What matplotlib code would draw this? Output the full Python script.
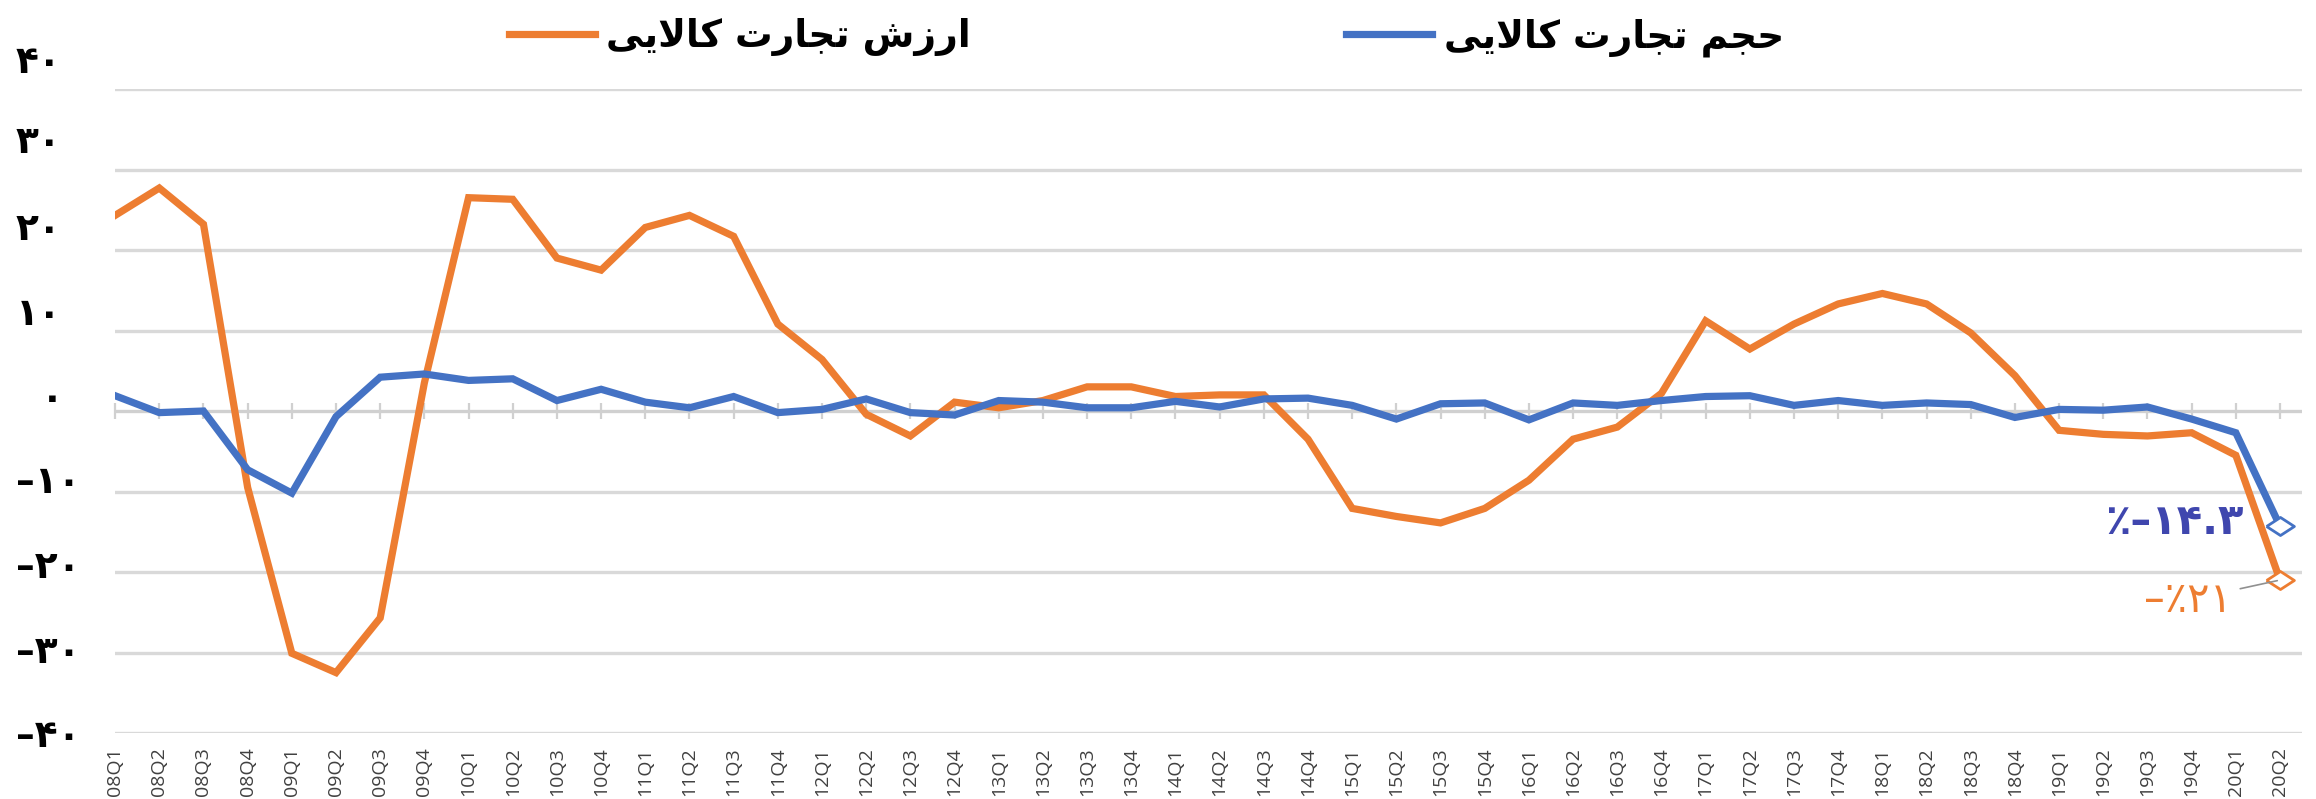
import numpy as np
import matplotlib
matplotlib.use("Agg")
import matplotlib.pyplot as plt
from matplotlib.lines import Line2D
from matplotlib.transforms import blended_transform_factory

plt.rcParams['font.family'] = ['DejaVu Sans']

# داده ها (درصد تغییر نسبت به سال قبل)
quarters = [f"{y:02d}Q{q}" for y in range(8, 21) for q in range(1, 5)][:50]

value_trade = [24.3, 27.7, 23.2, -9.5, -30.1, -32.5, -25.7, 3.5,
               26.5, 26.3, 19.0, 17.5, 22.8, 24.3, 21.7, 10.8,
               6.4, -0.4, -3.1, 1.1, 0.4, 1.3, 3.0, 3.0,
               1.8, 2.0, 2.0, -3.5, -12.1, -13.1, -13.9, -12.1,
               -8.6, -3.5, -2.0, 2.2, 11.2, 7.7, 10.8, 13.3,
               14.6, 13.3, 9.7, 4.4, -2.4, -2.9, -3.1, -2.7,
               -5.5, -21.0]

volume_trade = [1.9, -0.2, 0.0, -7.3, -10.2, -0.7, 4.2, 4.6,
                3.8, 4.0, 1.3, 2.7, 1.1, 0.4, 1.8, -0.2,
                0.2, 1.5, -0.2, -0.5, 1.3, 1.1, 0.4, 0.4,
                1.2, 0.5, 1.5, 1.6, 0.7, -1.0, 0.9, 1.0,
                -1.1, 1.0, 0.7, 1.3, 1.8, 1.9, 0.7, 1.3,
                0.7, 1.0, 0.8, -0.8, 0.2, 0.1, 0.5, -1.0,
                -2.7, -14.3]

grid_values = [40, 30, 20, 10, 0, -10, -20, -30, -40]
# برچسب های محور عمودی کمی جابجا از خطوط شبکه نوشته شده اند
ylabel_pos = [43.2, 33.3, 22.5, 11.9, 1.5, -8.9, -19.5, -30.1, -40.5]

label_value = "ارزش تجارت کالایی"
label_volume = "حجم تجارت کالایی"
note_value = "–٪۲۱"
note_volume = "٪–۱۴.۳"

ORANGE = '#ED7D31'
BLUE = '#4472C4'

# شکل دهی حروف فارسی (matplotlib حروف را به هم نمی چسباند)
FORMS = {
    'ا': ('\uFE8D', '\uFE8E', None, None),
    'ر': ('\uFEAD', '\uFEAE', None, None),
    'ز': ('\uFEAF', '\uFEB0', None, None),
    'ش': ('\uFEB5', '\uFEB6', '\uFEB7', '\uFEB8'),
    'ت': ('\uFE95', '\uFE96', '\uFE97', '\uFE98'),
    'ج': ('\uFE9D', '\uFE9E', '\uFE9F', '\uFEA0'),
    'ح': ('\uFEA1', '\uFEA2', '\uFEA3', '\uFEA4'),
    'م': ('\uFEE1', '\uFEE2', '\uFEE3', '\uFEE4'),
    'ک': ('\uFB8E', '\uFB8F', '\uFB90', '\uFB91'),
    'ل': ('\uFEDD', '\uFEDE', '\uFEDF', '\uFEE0'),
    'ی': ('\uFBFC', '\uFBFD', '\uFBFE', '\uFBFF'),
}


def shape(s):
    tokens = []
    i = 0
    while i < len(s):
        if s[i] == 'ل' and i + 1 < len(s) and s[i + 1] == 'ا':
            tokens.append('LA')
            i += 2
        else:
            tokens.append(s[i])
            i += 1

    def joins_next(t):
        return t in FORMS and FORMS[t][2] is not None

    def joins_prev(t):
        return t in FORMS or t == 'LA'

    out = []
    for k, t in enumerate(tokens):
        prev = tokens[k - 1] if k > 0 else None
        nxt = tokens[k + 1] if k + 1 < len(tokens) else None
        a = prev is not None and joins_next(prev)
        b = joins_next(t) and nxt is not None and joins_prev(nxt)
        if t == 'LA':
            out.append('\uFEFC' if a else '\uFEFB')
            continue
        if t not in FORMS:
            out.append(t)
            continue
        iso, fin, ini, med = FORMS[t]
        if a and b:
            out.append(med)
        elif a:
            out.append(fin)
        elif b:
            out.append(ini)
        else:
            out.append(iso)
    return ''.join(reversed(out))


def fa(n):
    s = str(abs(n)).translate(str.maketrans('0123456789', '۰۱۲۳۴۵۶۷۸۹'))
    return s if n >= 0 else '–' + s


fig = plt.figure(figsize=(23.16, 7.99), dpi=100)
ax = fig.add_axes([0.0497, 0.0826, 0.9443, 0.806])

x = np.arange(len(quarters))
diamond = [(-1, 0), (0, 0.65), (1, 0), (0, -0.65), (-1, 0)]

ax.plot(x, value_trade, color=ORANGE, lw=5.2, solid_joinstyle='miter',
        marker=diamond, markevery=[len(x) - 1], markersize=20,
        markerfacecolor='white', markeredgecolor=ORANGE, markeredgewidth=2,
        zorder=4)
ax.plot(x, volume_trade, color=BLUE, lw=5.2, solid_joinstyle='miter',
        marker=diamond, markevery=[len(x) - 1], markersize=20,
        markerfacecolor='white', markeredgecolor=BLUE, markeredgewidth=2,
        zorder=5)

ax.set_xlim(0, 49.5)
ax.set_ylim(-40, 40)

# خطوط شبکه
for v in grid_values:
    if v != 0:
        ax.axhline(v, color='#d9d9d9', lw=2.4, zorder=1)
ax.axhline(0, color='#d0d0d0', lw=2.4, zorder=2)

for s in ax.spines.values():
    s.set_visible(False)

ax.set_yticks([])
trans = blended_transform_factory(ax.transAxes, ax.transData)
for v, p in zip(grid_values, ylabel_pos):
    ax.text(-0.0455 if v != 0 else -0.034, p, fa(v), transform=trans,
            ha='left', va='center', fontsize=27, fontweight='bold',
            clip_on=False)

ax.set_xticks(x)
ax.set_xticklabels(quarters, rotation=90, fontsize=14, color='#404040',
                   family='Open Sans')
ax.tick_params(axis='x', length=0, pad=10)

# تیک های روی محور صفر
sec = ax.secondary_xaxis(0.5)
sec.set_xticks(x)
sec.set_xticklabels([])
sec.tick_params(axis='x', direction='inout', length=12, width=1.6,
                color='#d0d0d0')
sec.spines['bottom'].set_visible(False)
sec.spines['top'].set_visible(False)

# برچسب آخرین مقادیر
ax.annotate(note_volume, xy=(49, volume_trade[-1]), xytext=(-36, 4),
            textcoords='offset pixels', ha='right', va='center',
            fontsize=30, fontweight='bold', color='#3F46AE', zorder=6)
ax.annotate(note_value, xy=(49, value_trade[-1]), xytext=(-48, -20),
            textcoords='offset pixels', ha='right', va='center',
            fontsize=30, color=ORANGE, zorder=6,
            arrowprops=dict(arrowstyle='-', color='#909090', lw=1.2,
                            shrinkA=4, shrinkB=2))

handles = [Line2D([], [], color=ORANGE, lw=5.2),
           Line2D([], [], color=BLUE, lw=5.2)]
fig.legend(handles, [shape(label_value), shape(label_volume)],
           loc='center', bbox_to_anchor=(0.495, 0.953), ncol=2,
           frameon=False, handlelength=2.3, columnspacing=10,
           handletextpad=0.3, prop={'size': 27, 'weight': 'bold'})

plt.savefig('out.png', dpi=100)
